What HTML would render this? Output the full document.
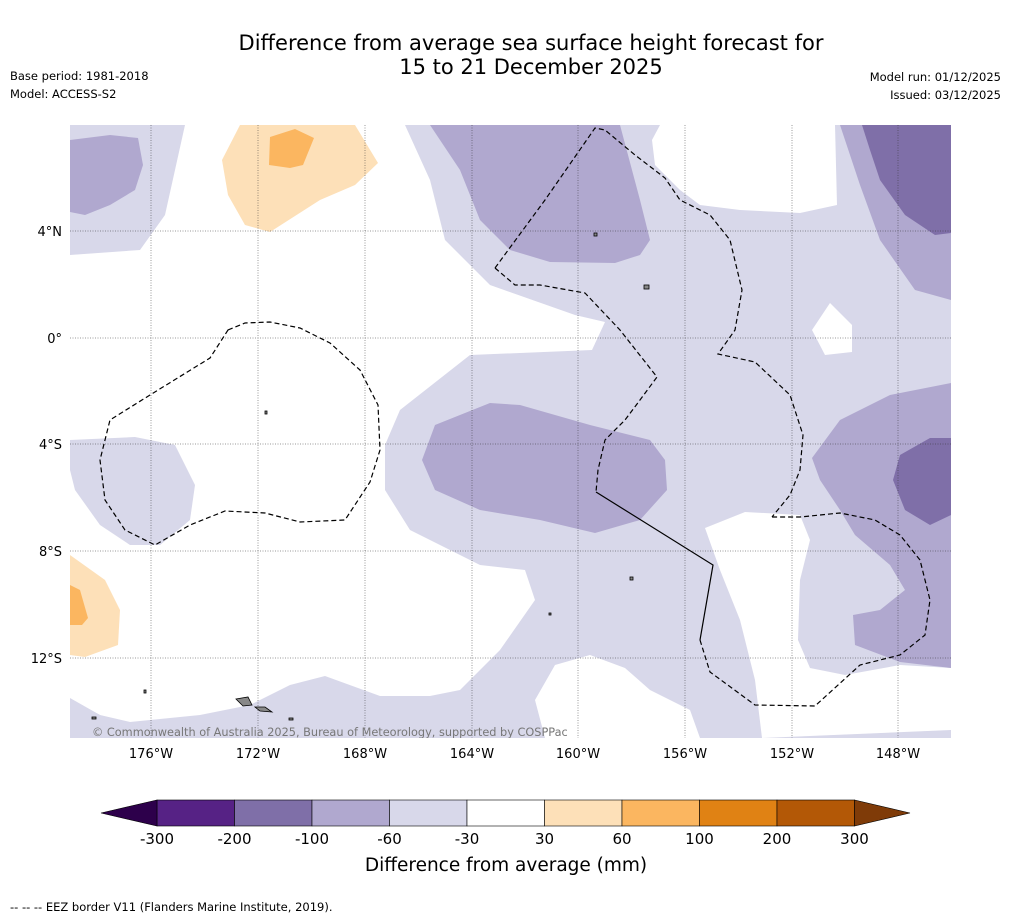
<!DOCTYPE html>
<html><head><meta charset="utf-8">
<style>
body{margin:0;background:#fff;width:1011px;height:919px;overflow:hidden;font-family:"DejaVu Sans","Liberation Sans",sans-serif;}
svg text{font-family:"DejaVu Sans","Liberation Sans",sans-serif;}
</style></head>
<body>
<svg id="chart" width="1011" height="919" viewBox="0 0 1011 919" xmlns="http://www.w3.org/2000/svg">
<rect width="1011" height="919" fill="#fff"/>
<text x="531" y="50" font-size="21" text-anchor="middle">Difference from average sea surface height forecast for</text>
<text x="531" y="74" font-size="21" text-anchor="middle">15 to 21 December 2025</text>
<text x="10" y="80" font-size="11.5">Base period: 1981-2018</text>
<text x="10" y="98" font-size="11.5">Model: ACCESS-S2</text>
<text x="1001" y="81" font-size="11.5" text-anchor="end">Model run: 01/12/2025</text>
<text x="1001" y="99" font-size="11.5" text-anchor="end">Issued: 03/12/2025</text>

<defs><clipPath id="mapclip"><rect x="70" y="125" width="881" height="613"/></clipPath></defs>
<g clip-path="url(#mapclip)">
<rect x="70" y="125" width="881" height="613" fill="#d8d8ea"/>
<g fill="#fff">
<polygon points="185,125 405,125 430,180 445,240 490,285 575,315 605,322 592,350 470,355 400,410 385,445 385,490 410,530 480,565 525,570 535,600 500,650 460,690 430,696 380,696 325,676 290,685 250,705 200,715 130,722 100,715 70,698 70,255 140,250 165,215"/>
<polygon points="545,738 535,700 555,665 590,655 625,668 650,690 690,710 700,738"/>
<polygon points="705,528 745,512 800,515 810,540 800,580 798,640 810,668 845,675 900,665 951,668 951,730 762,738 755,680 740,620 720,570"/>
<polygon points="660,125 835,125 837,205 800,213 740,210 700,205 680,190 655,165 652,140"/>
<polygon points="812,330 830,303 852,325 852,352 825,355"/>
</g>
<polygon fill="#d8d8ea" points="70,440 135,437 175,445 195,485 190,520 160,545 130,545 100,525 75,490 70,470"/>
<polygon fill="#d8d8ea" points="70,700 100,715 110,738 70,738"/>
<g fill="#b0a8cf">
<polygon points="70,140 110,135 138,138 143,165 135,190 110,205 85,215 70,212"/>
<polygon points="430,125 620,125 640,200 650,240 640,255 615,263 550,262 510,250 480,220 460,170"/>
<polygon points="840,125 951,125 951,300 915,290 880,240 860,185"/>
<polygon points="435,425 490,403 520,405 590,425 650,440 665,460 667,490 640,520 595,533 540,520 480,510 435,490 422,460"/>
<polygon points="812,458 840,420 890,395 951,383 951,668 900,662 855,645 853,615 880,610 905,590 890,565 855,535 840,510 820,480"/>
</g>
<g fill="#7f6fa8">
<polygon points="862,125 951,125 951,233 935,235 905,215 880,180 870,150"/>
<polygon points="900,455 930,438 951,438 951,515 930,525 905,510 893,480"/>
</g>
<g>
<polygon fill="#fde0b8" points="240,125 355,125 378,163 355,185 320,200 270,232 245,225 228,195 222,160"/>
<polygon fill="#fbb660" points="270,137 295,129 314,138 303,165 290,168 269,165"/>
<polygon fill="#fde0b8" points="70,555 105,580 120,610 118,645 85,657 70,655"/>
<polygon fill="#fbb660" points="70,585 80,590 88,618 82,625 70,625"/>
</g>
<g stroke="#333" stroke-width="0.5" stroke-dasharray="1,1.5">
<line x1="151" y1="125" x2="151" y2="738"/><line x1="258" y1="125" x2="258" y2="738"/><line x1="365" y1="125" x2="365" y2="738"/><line x1="472" y1="125" x2="472" y2="738"/><line x1="578" y1="125" x2="578" y2="738"/><line x1="685" y1="125" x2="685" y2="738"/><line x1="792" y1="125" x2="792" y2="738"/><line x1="898" y1="125" x2="898" y2="738"/>
<line x1="70" y1="231" x2="951" y2="231"/><line x1="70" y1="338" x2="951" y2="338"/><line x1="70" y1="444" x2="951" y2="444"/><line x1="70" y1="551" x2="951" y2="551"/><line x1="70" y1="658" x2="951" y2="658"/>
</g>
<g fill="none" stroke="#000" stroke-width="1.2" stroke-dasharray="5,3">
<polyline points="495,268 545,200 595,128 605,130 635,155 665,178 680,200 710,215 730,240 742,290 735,330 718,354 755,362 790,395 803,435 800,470 790,495 772,517"/>
<polyline points="495,268 515,285 540,285 585,293 620,330 657,377 640,400 625,420 605,440 598,470 596,492"/>
<polyline points="700,640 710,672 755,705 815,706 860,665 900,655 925,635 930,600 920,560 900,535 875,520 840,513 800,517 772,517"/>
<polygon points="228,330 245,323 270,322 300,328 330,343 360,370 378,405 380,450 370,482 345,520 300,522 265,513 225,511 190,525 155,545 125,530 105,500 100,460 110,420 150,395 210,358"/>
</g>
<polyline fill="none" stroke="#000" stroke-width="1.2" points="596,492 713,565 700,640"/>
<g fill="#888" stroke="#000" stroke-width="0.8">
<polygon points="236,699 248,697 252,705 243,706"/><polygon points="255,707 265,707 272,712 260,711"/>
<rect x="594" y="233" width="3" height="3"/><rect x="644" y="285" width="5" height="4"/><rect x="265" y="411" width="2" height="3"/><rect x="630" y="577" width="3" height="3"/><rect x="144" y="690" width="2" height="3"/><rect x="289" y="718" width="4" height="2"/><rect x="92" y="717" width="4" height="2"/><rect x="549" y="613" width="2" height="2"/>
</g>
<text x="92" y="736" font-size="11.3" fill="#777">© Commonwealth of Australia 2025, Bureau of Meteorology, supported by COSPPac</text>
</g>
<g font-size="13">
<text x="151" y="758" text-anchor="middle">176°W</text><text x="258" y="758" text-anchor="middle">172°W</text><text x="365" y="758" text-anchor="middle">168°W</text><text x="472" y="758" text-anchor="middle">164°W</text><text x="578" y="758" text-anchor="middle">160°W</text><text x="685" y="758" text-anchor="middle">156°W</text><text x="792" y="758" text-anchor="middle">152°W</text><text x="898" y="758" text-anchor="middle">148°W</text>
<text x="62" y="236" text-anchor="end">4°N</text><text x="62" y="343" text-anchor="end">0°</text><text x="62" y="449" text-anchor="end">4°S</text><text x="62" y="556" text-anchor="end">8°S</text><text x="62" y="663" text-anchor="end">12°S</text>
</g>
<g id="colorbar"></g>
<text x="506" y="871" font-size="18.5" text-anchor="middle">Difference from average (mm)</text>
<text x="10" y="911" font-size="11.5">--  --  -- EEZ border V11 (Flanders Marine Institute, 2019).</text>
</svg>
<script>
const levels = [-300, -200, -100, -60, -30, 30, 60, 100, 200, 300];
const levelLabels = ["-300","-200","-100","-60","-30","30","60","100","200","300"];
const binColors = ["#562285","#7f6fa8","#b0a8cf","#d8d8ea","#ffffff","#fde0b8","#fbb660","#e08214","#b35806"];
const extendColors = ["#2d004b","#7f3b08"];
const ns = "http://www.w3.org/2000/svg";
const cb = document.getElementById("colorbar");
const x0 = 157, step = 77.5, y0 = 800, h = 26;
function xAt(i){ return x0 + i*step; }
for (let i = 0; i < binColors.length; i++) {
  const r = document.createElementNS(ns, "rect");
  r.setAttribute("x", xAt(i)); r.setAttribute("y", y0);
  r.setAttribute("width", step); r.setAttribute("height", h);
  r.setAttribute("fill", binColors[i]); r.setAttribute("stroke", "#000"); r.setAttribute("stroke-width", "0.6");
  
  
  cb.appendChild(r);
}
const lt = document.createElementNS(ns, "polygon");
lt.setAttribute("points", `${xAt(0)},${y0} ${xAt(0)},${y0+h} 101,${y0+h/2}`);
lt.setAttribute("fill", extendColors[0]); lt.setAttribute("stroke", "#000"); lt.setAttribute("stroke-width", "0.6");


cb.appendChild(lt);
const xe = xAt(binColors.length);
const rt = document.createElementNS(ns, "polygon");
rt.setAttribute("points", `${xe},${y0} ${xe},${y0+h} 910,${y0+h/2}`);
rt.setAttribute("fill", extendColors[1]); rt.setAttribute("stroke", "#000"); rt.setAttribute("stroke-width", "0.6");


cb.appendChild(rt);
for (let i = 0; i < levels.length; i++) {
  const t = document.createElementNS(ns, "text");
  t.setAttribute("x", xAt(i)); t.setAttribute("y", 844);
  t.setAttribute("font-size", "15"); t.setAttribute("text-anchor", "middle");
  t.textContent = levelLabels[i];
  
  
  cb.appendChild(t);
}
</script>
</body></html>
